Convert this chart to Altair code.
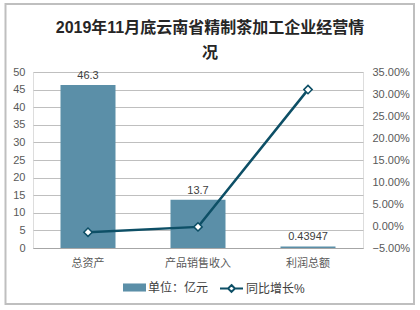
import altair as alt
import pandas as pd

categories = ["总资产", "产品销售收入", "利润总额"]
amounts = [46.3, 13.7, 0.43947]
amount_labels = ["46.3", "13.7", "0.43947"]
growth = [-0.014, -0.002, 0.310]

bar_series = "单位：亿元"
line_series = "同比增长%"

df = pd.DataFrame({
    "cat": categories,
    "amount": amounts,
    "label": amount_labels,
    "growth": growth,
    "s1": [bar_series] * 3,
    "s2": [line_series] * 3,
})

FONT = "Liberation Sans, Noto Sans CJK SC"
BAR = "#5b8fa8"
LINE = "#0d4f66"

x = alt.X("cat:N", sort=categories, title=None,
          scale=alt.Scale(paddingInner=0.5, paddingOuter=0.25),
          axis=alt.Axis(labelAngle=0, ticks=False, domainColor="#a6a6a6",
                        labelPadding=9, labelColor="#595959", labelFontSize=11))

yl = alt.Y("amount:Q", title=None,
           scale=alt.Scale(domain=[0, 50]),
           axis=alt.Axis(values=list(range(0, 51, 5)), ticks=False, domain=False,
                         gridColor="#bfbfbf", labelPadding=8, labelColor="#595959",
                         labelFontSize=11))

yr = alt.Y("growth:Q", title=None,
           scale=alt.Scale(domain=[-0.05, 0.35]),
           axis=alt.Axis(orient="right", format=".2%",
                         values=[-0.05, 0, 0.05, 0.10, 0.15, 0.20, 0.25, 0.30, 0.35],
                         ticks=False, domain=False, grid=False, labelPadding=9,
                         labelColor="#595959", labelFontSize=11))

base = alt.Chart(df)

bars = base.mark_bar().encode(
    x=x,
    y=yl,
    color=alt.Color("s1:N", scale=alt.Scale(domain=[bar_series], range=[BAR]),
                    legend=alt.Legend(title=None, orient="none", legendX=90, legendY=204,
                                      symbolType="M-1,-0.35L1,-0.35L1,0.35L-1,0.35Z",
                                      symbolSize=529, symbolStrokeWidth=0,
                                      labelFontSize=12, labelColor="#404040",
                                      labelOffset=2, padding=0)),
)

texts = base.mark_text(dy=-9, fontSize=11, color="#404040", font=FONT).encode(
    x=x,
    y=yl,
    text="label:N",
)

left = alt.layer(bars, texts)

line = base.mark_line(strokeWidth=2.5).encode(
    x=x,
    y=yr,
    stroke=alt.Stroke("s2:N", scale=alt.Scale(domain=[line_series], range=[LINE]),
                      legend=alt.Legend(title=None, orient="none", legendX=186, legendY=204,
                                        symbolType="M-1,0L-0.3,0M0.3,0L1,0M0,-0.3L0.3,0L0,0.3L-0.3,0Z",
                                        symbolSize=529, symbolStrokeWidth=2,
                                        symbolFillColor="white",
                                        labelFontSize=12, labelColor="#404040",
                                        labelOffset=2, padding=0)),
)

points = base.mark_point(shape="diamond", filled=True, fill="white", stroke=LINE,
                         strokeWidth=1.5, size=70, opacity=1).encode(
    x=x,
    y=yr,
)

right = alt.layer(line, points)

border = alt.Chart(pd.DataFrame({"k": [0]})).mark_rect(
    fill=None, stroke="#bfbfbf", strokeWidth=2
).encode(
    x=alt.value(-27.5), x2=alt.value(381), y=alt.value(-68), y2=alt.value(232)
)

chart = alt.layer(left, right, border).resolve_scale(
    y="independent", color="independent", stroke="independent"
).properties(
    width=330, height=176,
    title=alt.TitleParams(text=["2019年11月底云南省精制茶加工企业经营情", "况"],
                          fontSize=16, fontWeight="bold", font=FONT, color="#262626",
                          anchor="middle", frame="group", dx=12, lineHeight=25,
                          offset=-58),
    padding={"left": 33, "top": 72, "right": 57, "bottom": 62},
    autosize=alt.AutoSizeParams(type="none"),
    background="white",
).configure_view(stroke=None).configure(font=FONT)

chart.save("out.html", embed_options={"renderer": "svg", "actions": False})
